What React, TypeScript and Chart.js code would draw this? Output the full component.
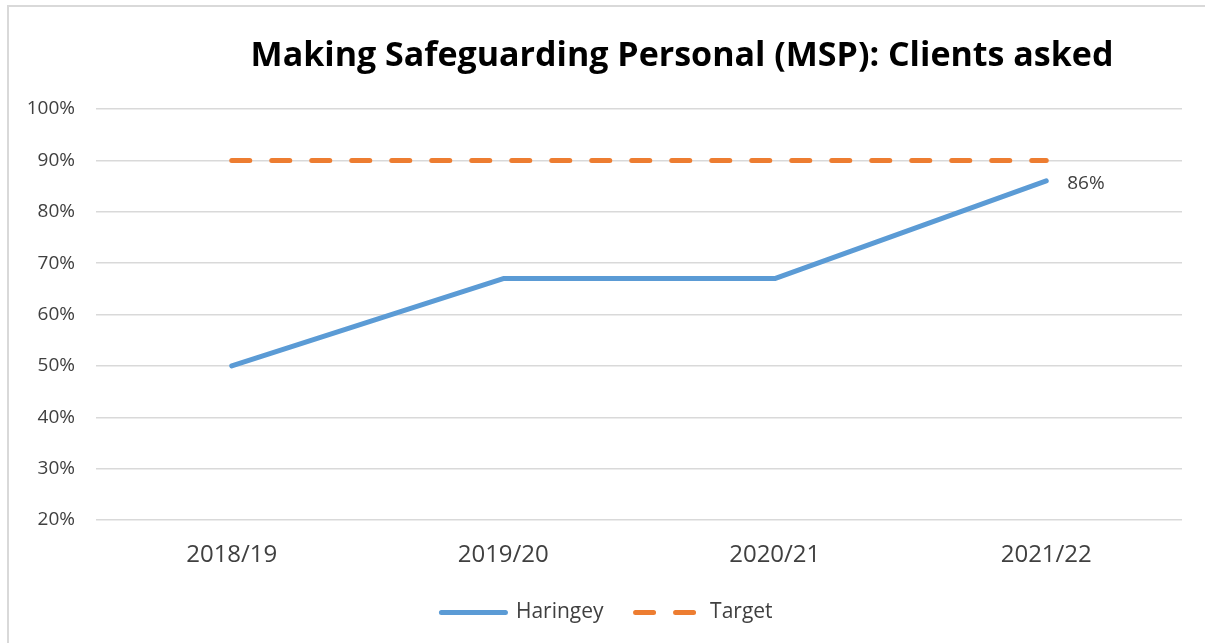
import React, { useEffect, useRef } from "react";
import { Chart, registerables } from "chart.js";

Chart.register(...registerables);

const TITLE = "Making Safeguarding Personal (MSP): Clients asked";
const categories = ["2018/19", "2019/20", "2020/21", "2021/22"];
const haringeyValues = [50, 67, 67, 86];
const targetValues = [90, 90, 90, 90];
const yMin = 20;
const yMax = 100;
const yStep = 10;

const BLUE = "#5B9BD5";
const ORANGE = "#ED7D31";
const TEXT = "#404040";
const FONT = "'Open Sans', 'Noto Sans', sans-serif";

const titlePlugin = {
  id: "customTitle",
  afterDraw(chart: any) {
    const ctx = chart.ctx;
    ctx.save();
    ctx.font = `bold 34px ${FONT}`;
    ctx.fillStyle = "#000000";
    ctx.textAlign = "center";
    ctx.textBaseline = "middle";
    ctx.fillText(TITLE, 682, 56);
    ctx.restore();
  },
};

const legendShiftPlugin = {
  id: "legendShift",
  afterLayout(chart: any) {
    const lg = chart.legend;
    if (lg) {
      lg.left += 16;
      lg.right += 16;
    }
  },
};

const lastLabelPlugin = {
  id: "lastLabel",
  afterDatasetsDraw(chart: any) {
    const meta = chart.getDatasetMeta(0);
    const n = haringeyValues.length - 1;
    const pt = meta.data[n];
    if (!pt) return;
    const ctx = chart.ctx;
    ctx.save();
    ctx.font = `19px ${FONT}`;
    ctx.fillStyle = TEXT;
    ctx.textAlign = "left";
    ctx.textBaseline = "middle";
    ctx.fillText(`${haringeyValues[n]}%`, pt.x + 21, pt.y + 3);
    ctx.restore();
  },
};

export default function App() {
  const ref = useRef<HTMLCanvasElement | null>(null);

  useEffect(() => {
    if (!ref.current) return;
    const chart = new Chart(ref.current, {
      type: "line",
      data: {
        labels: categories,
        datasets: [
          {
            label: "Haringey",
            data: haringeyValues,
            borderColor: BLUE,
            backgroundColor: BLUE,
            borderWidth: 5,
            pointRadius: 0,
            pointHoverRadius: 0,
            borderCapStyle: "round",
            borderJoinStyle: "round",
            tension: 0,
          },
          {
            label: "Target",
            data: targetValues,
            borderColor: ORANGE,
            backgroundColor: ORANGE,
            borderWidth: 5,
            borderDash: [18, 22],
            borderCapStyle: "round",
            pointRadius: 0,
            pointHoverRadius: 0,
            tension: 0,
          },
        ],
      },
      options: {
        responsive: false,
        animation: false,
        layout: { padding: { left: 0, right: 23, top: 109, bottom: 10 } },
        plugins: {
          title: { display: false },
          tooltip: { enabled: false },
          legend: {
            display: true,
            position: "bottom",
            labels: {
              usePointStyle: true,
              pointStyle: "line",
              pointStyleWidth: 64,
              boxHeight: 21,
              padding: 32,
              color: TEXT,
              font: { family: FONT, size: 21 },
              generateLabels: (chart: any) => {
                const items = (Chart as any).defaults.plugins.legend.labels.generateLabels(chart);
                items.forEach((it: any) => {
                  const ds = chart.data.datasets[it.datasetIndex];
                  it.lineDash = ds.borderDash || [];
                  it.lineDashOffset = 0;
                  it.lineCap = "round";
                  it.lineWidth = ds.borderWidth;
                  it.strokeStyle = ds.borderColor;
                  it.fillStyle = ds.borderColor;
                  it.pointStyle = "line";
                });
                return items;
              },
            },
          },
        },
        scales: {
          x: {
            type: "category",
            offset: true,
            afterFit: (scale: any) => {
              scale.height = 50;
            },
            grid: { display: false, drawTicks: false },
            border: { display: false },
            ticks: {
              color: TEXT,
              font: { family: FONT, size: 24 },
              padding: 21,
              maxRotation: 0,
            },
          },
          y: {
            min: yMin,
            max: yMax,
            afterFit: (scale: any) => {
              scale.width = 96;
            },
            grid: { color: "#D9D9D9", lineWidth: 1.5, drawTicks: false },
            border: { display: false },
            ticks: {
              stepSize: yStep,
              color: TEXT,
              font: { family: FONT, size: 19 },
              padding: 21,
              callback: (v: any) => `${v}%`,
            },
          },
        },
      },
      plugins: [titlePlugin, legendShiftPlugin, lastLabelPlugin],
    });
    return () => chart.destroy();
  }, []);

  return (
    <div
      style={{
        position: "absolute",
        left: 0,
        top: 0,
        width: 1205,
        height: 643,
        background: "#ffffff",
        overflow: "hidden",
      }}
    >
      <div
        style={{
          position: "absolute",
          left: 7,
          top: 5,
          width: 1205,
          height: 643,
          borderLeft: "2px solid #D9D9D9",
          borderTop: "2px solid #D9D9D9",
        }}
      />
      <canvas
        ref={ref}
        width={1205}
        height={643}
        style={{ position: "absolute", left: 0, top: 0, width: 1205, height: 643 }}
      />
    </div>
  );
}
